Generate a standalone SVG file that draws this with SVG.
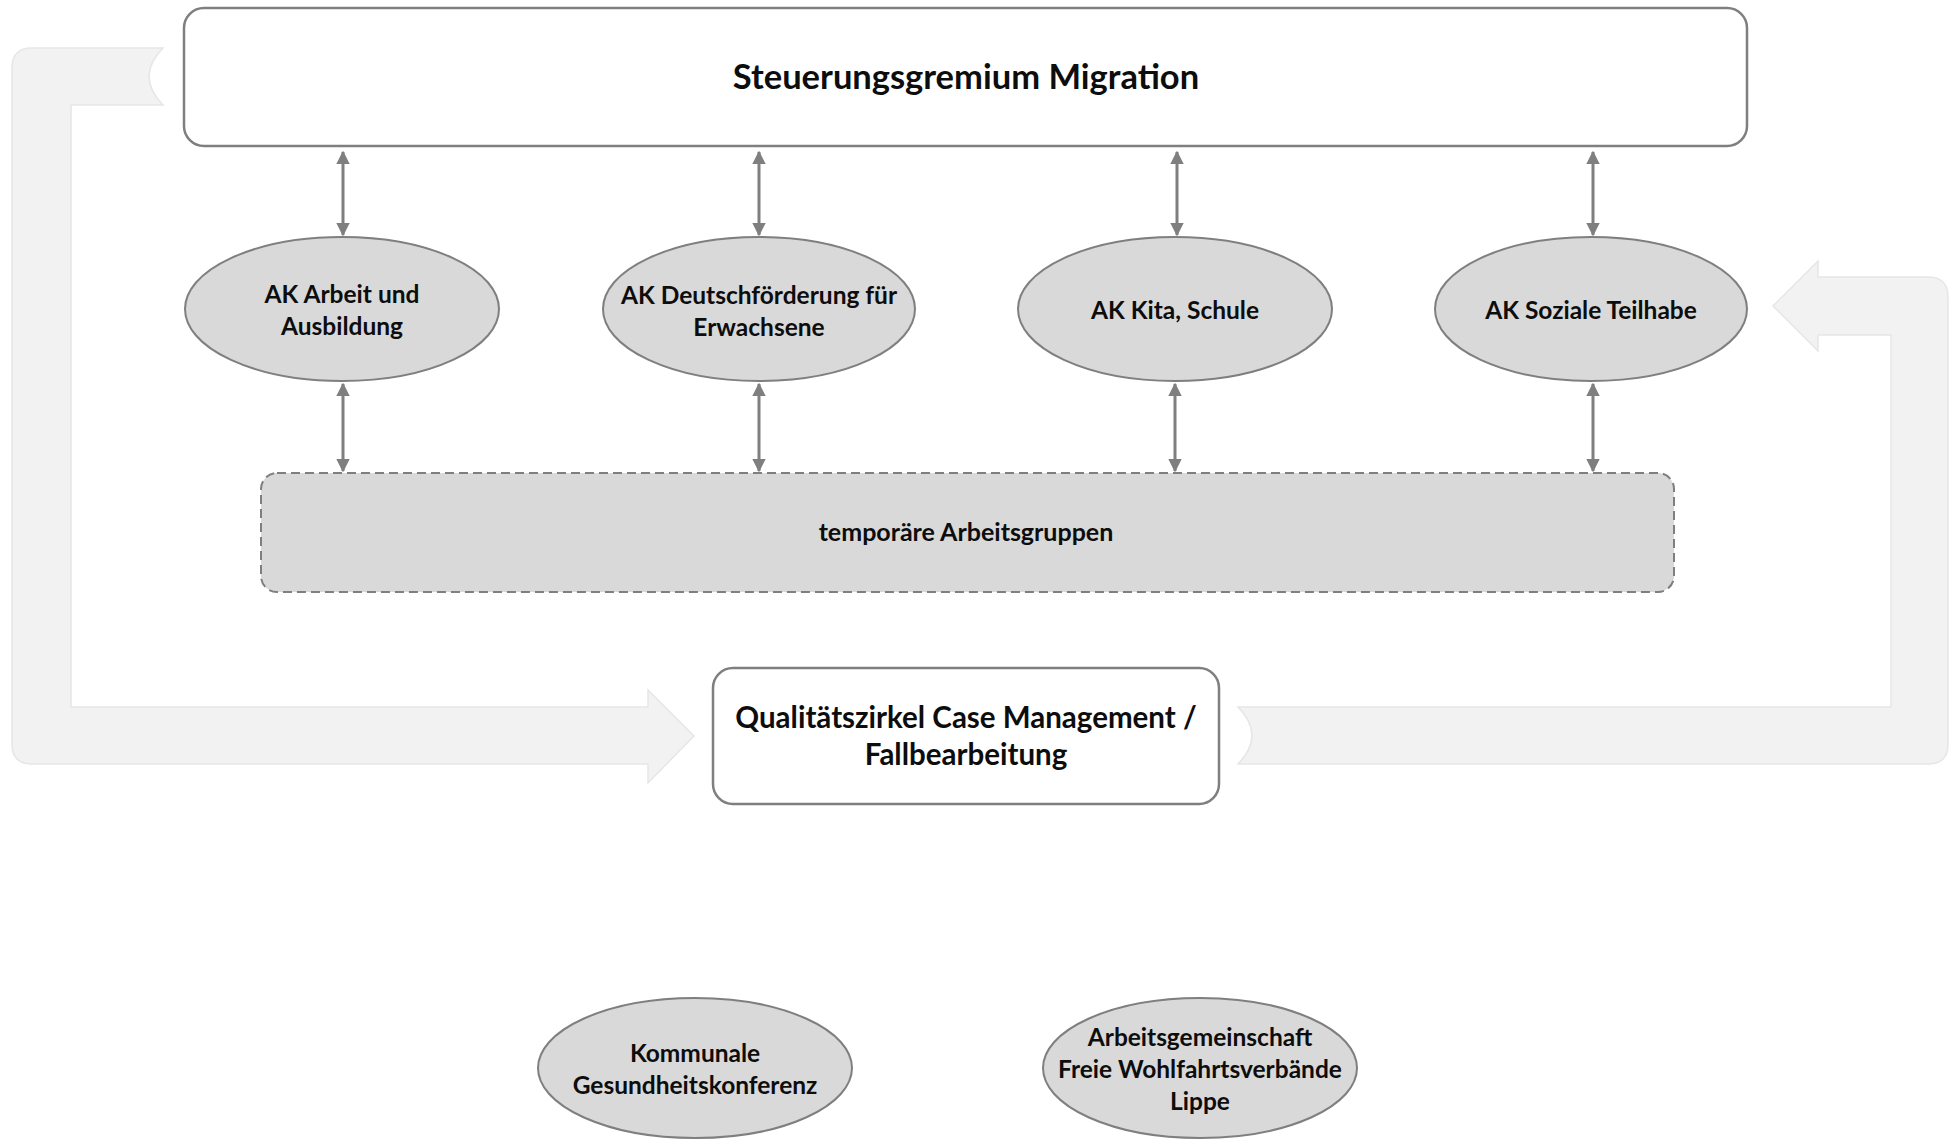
<svg xmlns="http://www.w3.org/2000/svg" width="1951" height="1139" viewBox="0 0 1951 1139">
<defs>
<marker id="ah" viewBox="0 0 10 10" refX="9" refY="5" markerWidth="4.5" markerHeight="4.5" orient="auto-start-reverse" markerUnits="strokeWidth">
<path d="M0,0 L10,5 L0,10 Z" fill="#7f7f7f"/>
</marker>
<style>
.loop{fill:#f2f2f2;stroke:#e6e6e6;stroke-width:1.5}
.box{fill:#ffffff;stroke:#7f7f7f;stroke-width:2.5}
.ell{fill:#d9d9d9;stroke:#7f7f7f;stroke-width:2}
.dash{fill:#d9d9d9;stroke:#7f7f7f;stroke-width:2;stroke-dasharray:9 5}
.con{stroke:#7f7f7f;stroke-width:3;fill:none;marker-start:url(#ah);marker-end:url(#ah)}
text{font-family:Lato,"Liberation Sans",sans-serif;font-weight:bold;fill:#0d0d0d;text-anchor:middle}
.t1{font-size:34.5px}
.t2{font-size:24.5px}
.t4{font-size:25px}
.t3{font-size:29.5px}
</style>
</defs>
<rect width="1951" height="1139" fill="#ffffff"/>
<g id="loop-left">
<path class="loop" d="M163,48 L32,48 Q12,48 12,68 L12,744 Q12,764 32,764 L648,764 L648,783 L694,736 L648,690 L648,707 L71,707 L71,105 L163,105 Q135,76.5 163,48 Z"/>
</g>
<g id="loop-right">
<path class="loop" d="M1238,707 L1891,707 L1891,335 L1818,335 L1818,351 L1773,306 L1818,261 L1818,277 L1928,277 Q1948,277 1948,297 L1948,744 Q1948,764 1928,764 L1238,764 Q1266,735.5 1238,707 Z"/>
</g>
<g id="steuerungsgremium">
<rect class="box" x="184" y="8" width="1563" height="138" rx="20"/>
<text class="t1" x="966" y="89">Steuerungsgremium Migration</text>
</g>
<g id="ak-arbeit">
<ellipse class="ell" cx="342" cy="309" rx="157" ry="72"/>
<text class="t2" x="342" y="303">AK Arbeit und</text>
<text class="t2" x="342" y="335">Ausbildung</text>
</g>
<g id="ak-deutsch">
<ellipse class="ell" cx="759" cy="309" rx="156" ry="72"/>
<text class="t2" x="759" y="304">AK Deutschförderung für</text>
<text class="t2" x="759" y="336">Erwachsene</text>
</g>
<g id="ak-kita">
<ellipse class="ell" cx="1175" cy="309" rx="157" ry="72"/>
<text class="t2" x="1175" y="319">AK Kita, Schule</text>
</g>
<g id="ak-soziale">
<ellipse class="ell" cx="1591" cy="309" rx="156" ry="72"/>
<text class="t2" x="1591" y="319">AK Soziale Teilhabe</text>
</g>
<g id="temporaere">
<rect class="dash" x="261" y="473" width="1413" height="119" rx="16"/>
<text class="t4" x="966" y="541">temporäre Arbeitsgruppen</text>
</g>
<g id="qualitaetszirkel">
<rect class="box" x="713" y="668" width="506" height="136" rx="20"/>
<text class="t3" x="966" y="728">Qualitätszirkel Case Management /</text>
<text class="t3" x="966" y="765">Fallbearbeitung</text>
</g>
<g id="kommunale">
<ellipse class="ell" cx="695" cy="1068" rx="157" ry="70"/>
<text class="t2" x="695" y="1062">Kommunale</text>
<text class="t2" x="695" y="1094">Gesundheitskonferenz</text>
</g>
<g id="arbeitsgemeinschaft">
<ellipse class="ell" cx="1200" cy="1068" rx="157" ry="70"/>
<text class="t2" x="1200" y="1046">Arbeitsgemeinschaft</text>
<text class="t2" x="1200" y="1078">Freie Wohlfahrtsverbände</text>
<text class="t2" x="1200" y="1110">Lippe</text>
</g>
<g id="connectors">
<line class="con" x1="343" y1="152" x2="343" y2="235"/>
<line class="con" x1="759" y1="152" x2="759" y2="235"/>
<line class="con" x1="1177" y1="152" x2="1177" y2="235"/>
<line class="con" x1="1593" y1="152" x2="1593" y2="235"/>
<line class="con" x1="343" y1="384" x2="343" y2="471"/>
<line class="con" x1="759" y1="384" x2="759" y2="471"/>
<line class="con" x1="1175" y1="384" x2="1175" y2="471"/>
<line class="con" x1="1593" y1="384" x2="1593" y2="471"/>
</g>
</svg>
